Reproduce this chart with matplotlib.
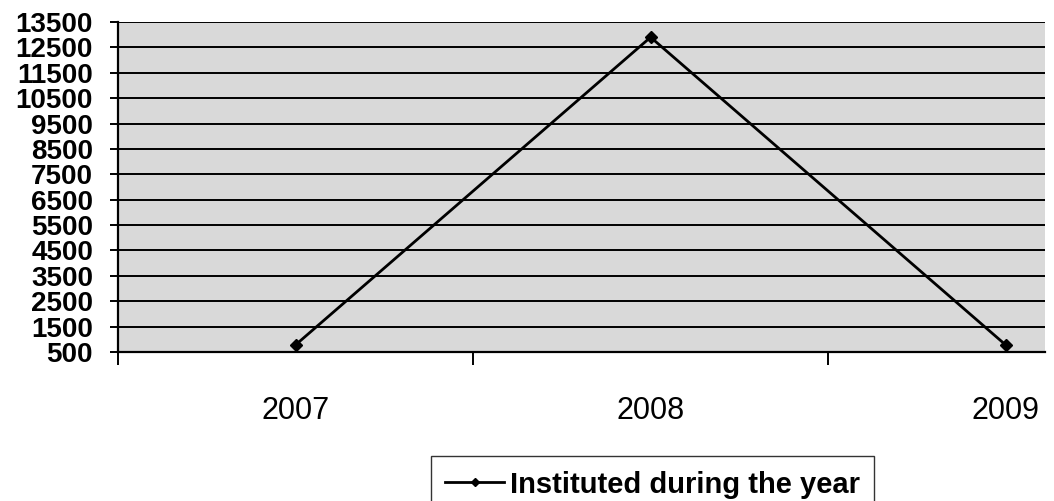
import matplotlib.pyplot as plt

# data
years = ['2007', '2008', '2009']
instituted = [780, 12900, 780]
y_ticks = list(range(500, 14500, 1000))
series_label = 'Instituted during the year'

plt.rcParams['font.family'] = ['Liberation Sans', 'DejaVu Sans']

fig = plt.figure(figsize=(10.54, 5.01), dpi=100)
ax = fig.add_axes([0.112, 0.2974, 0.8795, 0.6587])

ax.set_facecolor('#d9d9d9')
x = list(range(len(years)))
ax.plot(x, instituted, color='black', linewidth=2.0, marker='D', markersize=6,
        label=series_label, zorder=3)

ax.set_ylim(500, 13500)
ax.set_xlim(-0.5, 2.111)

ax.set_yticks(y_ticks)
ax.set_yticklabels([str(v) for v in y_ticks], fontsize=20, fontweight='bold')
ax.yaxis.grid(True, color='black', linewidth=1.4)
ax.set_axisbelow(False)

# category ticks between categories, labels at centres
ax.set_xticks([-0.5, 0.5, 1.5])
ax.set_xticklabels([])
ax.set_xticks(x, minor=True)
ax.set_xticklabels(years, minor=True, fontsize=22)
ax.tick_params(axis='x', which='minor', length=0, pad=32)
ax.tick_params(axis='x', which='major', length=9, width=1.4, direction='out')
ax.tick_params(axis='y', length=6, width=1.4, pad=12, direction='out')

for side in ['top', 'right']:
    ax.spines[side].set_visible(False)
ax.spines['left'].set_linewidth(1.6)
ax.spines['bottom'].set_linewidth(1.6)

leg = fig.legend(loc='upper center', bbox_to_anchor=(0.619, 1 - 456 / 501),
                 prop={'size': 21, 'weight': 'bold'}, frameon=True,
                 fancybox=False, edgecolor='black', handlelength=2.0,
                 borderpad=0.5, borderaxespad=0, handletextpad=0.2)
leg.get_frame().set_linewidth(1.0)
leg.legend_handles[0].set_markersize(4)

plt.savefig('out.png', dpi=100)
